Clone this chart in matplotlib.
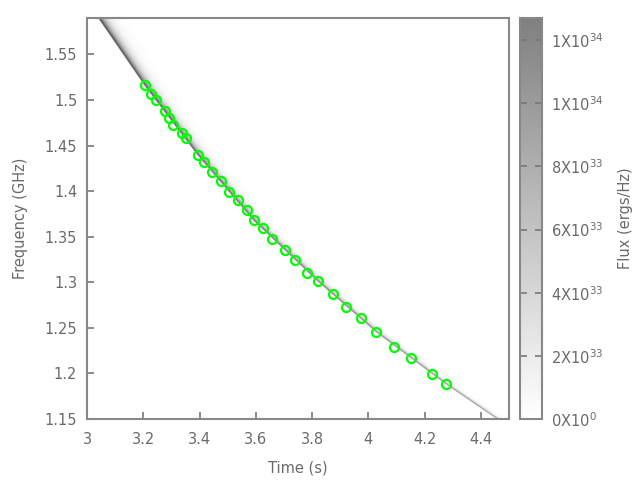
import numpy as np
import matplotlib
matplotlib.use("Agg")
import matplotlib.pyplot as plt
from matplotlib.colors import LinearSegmentedColormap, Normalize
from matplotlib.ticker import FuncFormatter

plt.rcParams['font.family'] = ['DejaVu Sans']
plt.rcParams['mathtext.default'] = 'regular'

# Measured burst points (time s, frequency GHz)
pt_time = [3.206, 3.229, 3.247, 3.278, 3.293, 3.307, 3.336, 3.352, 3.393, 3.417,
           3.445, 3.476, 3.506, 3.536, 3.568, 3.592, 3.624, 3.659, 3.703, 3.740,
           3.781, 3.820, 3.874, 3.919, 3.975, 4.028, 4.090, 4.150, 4.226, 4.275]
pt_freq = [1.516, 1.507, 1.500, 1.488, 1.480, 1.473, 1.464, 1.458, 1.440, 1.432,
           1.421, 1.411, 1.399, 1.390, 1.379, 1.368, 1.360, 1.348, 1.335, 1.324,
           1.310, 1.301, 1.287, 1.273, 1.261, 1.245, 1.229, 1.217, 1.199, 1.188]

# Trace of the dispersed pulse (leading edge)
track_freq = [1.150, 1.188, 1.245, 1.301, 1.368, 1.440, 1.516, 1.590]
track_time = [4.455, 4.275, 4.028, 3.820, 3.592, 3.393, 3.206, 3.042]
# Peak flux (ergs/Hz) and scattering tail (s) along the trace
peak_freq = [1.150, 1.590]
peak_flux = [1.25e34, 1.9e34]
tail_tau = [0.006, 0.017]

cbar_ticks = [0, 2e33, 4e33, 6e33, 8e33, 1e34, 1.2e34]
flux_max = 1.27e34

grey = '#6a6a6a'

fig = plt.figure(figsize=(6.4, 4.8), dpi=100)
ax = fig.add_axes([87/640, 61/480, 422/640, 401/480])
cax = fig.add_axes([520/640, 61/480, 21.5/640, 401/480])

# Build flux image
tt = np.linspace(3.0, 4.5, 1000)
ff = np.linspace(1.15, 1.59, 700)
T, F = np.meshgrid(tt, ff)
tc = np.interp(F, track_freq, track_time)
A = np.interp(F, peak_freq, peak_flux)
tau = np.interp(F, peak_freq, tail_tau)
dt = T - tc
flux = np.where(dt >= 0, A * np.exp(-np.clip(dt, 0, None) / tau),
                A * np.exp(-(dt / 0.002) ** 2))

cmap = LinearSegmentedColormap.from_list('wg', ['#ffffff', '#000000'])
norm = Normalize(0, 2 * flux_max)
im = ax.imshow(flux, origin='lower', extent=[3.0, 4.5, 1.15, 1.59],
               aspect='auto', cmap=cmap, norm=norm, interpolation='antialiased')

ax.plot(pt_time, pt_freq, 'o', mfc='none', mec='#00ff00', ms=6.5, mew=1.6)

ax.set_xlim(3.0, 4.5)
ax.set_ylim(1.15, 1.59)
ax.set_xticks([3, 3.2, 3.4, 3.6, 3.8, 4, 4.2, 4.4])
ax.set_xticklabels(['3', '3.2', '3.4', '3.6', '3.8', '4', '4.2', '4.4'])
ax.set_yticks([1.15, 1.2, 1.25, 1.3, 1.35, 1.4, 1.45, 1.5, 1.55])
ax.set_yticklabels(['1.15', '1.2', '1.25', '1.3', '1.35', '1.4', '1.45', '1.5', '1.55'])
ax.tick_params(direction='in', length=5, width=1.2, color='#777777',
               labelsize=10.5, labelcolor=grey)
ax.tick_params(axis='x', pad=9)
ax.tick_params(axis='y', pad=7)
for s in ax.spines.values():
    s.set_color('#888888')
    s.set_linewidth(1.5)
ax.set_xlabel('Time (s)', fontsize=10.5, color=grey, labelpad=10)
ax.set_ylabel('Frequency (GHz)', fontsize=10.5, color=grey, labelpad=12)

# Colorbar
cb = fig.colorbar(im, cax=cax)
cax.set_ylim(0, flux_max)
cb.set_ticks(cbar_ticks)

def fmt(v, pos=None):
    if v == 0:
        return '0X10$^{0}$'
    e = int(np.floor(np.log10(v) + 1e-9))
    m = int(v / 10 ** e + 1e-9)
    return f'{m}X10$^{{{e}}}$'

cb.formatter = FuncFormatter(fmt)
cb.update_ticks()
cax.yaxis.set_ticks_position('both')
cax.tick_params(axis='y', direction='in', length=5, width=1.2, color='#777777',
                labelsize=10.5, labelcolor=grey, pad=7, labelleft=False, labelright=True)
cb.outline.set_edgecolor('#888888')
cb.outline.set_linewidth(1.5)
cb.set_label('Flux (ergs/Hz)', fontsize=10.5, color=grey, labelpad=10)

fig.savefig('out.png', dpi=100)
